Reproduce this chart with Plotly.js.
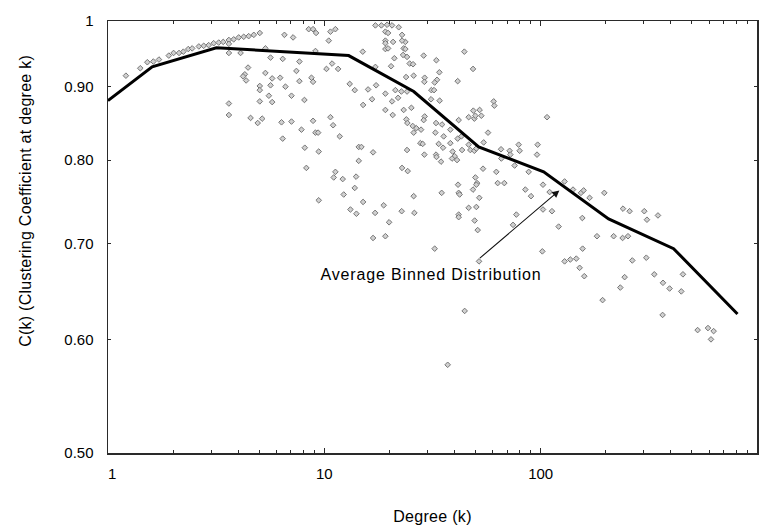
<!DOCTYPE html>
<html>
<head>
<meta charset="utf-8">
<script src="https://cdn.plot.ly/plotly-3.0.1.min.js"></script>
<style>
html,body{margin:0;padding:0;background:#ffffff;}
#chart{width:768px;height:529px;}
#chart .annotation[data-index="1"] text{letter-spacing:0.85px;}
#chart .annotation[data-index="0"] text{letter-spacing:0.25px;}
#chart .xtitle{letter-spacing:0.3px;}
</style>
</head>
<body>
<div id="chart"></div>
<script>
// Scatter of nodes: degree k and clustering coefficient C(k)
const nodeDegree = [
1.21,1.41,1.52,1.62,1.72,1.91,2.01,2.13,2.23,2.35,2.45,2.63,2.77,2.92,3.08,3.25,3.41,3.62,3.81,4.02,4.24,4.47,4.72,5.03,
3.62,3.62,4.10,5.34,6.54,7.17,8.47,8.87,9.16,10.67,11.25,10.48,9.10,5.64,6.42,7.67,10.86,10.23,11.58,4.44,4.29,4.21,4.35,5.34,5.74,6.25,
7.43,7.67,8.72,8.87,5.03,5.03,5.64,6.61,5.54,5.74,5.03,7.05,8.09,3.62,3.62,4.56,5.16,4.92,6.34,7.05,7.84,8.87,10.67,10.98,9.10,9.36,
11.78,6.42,8.12,9.42,14.42,14.84,14.42,16.80,8.26,11.25,11.05,12.16,14.02,13.82,12.29,9.42,15.11,13.20,14.07,17.17,18.81,19.92,16.80,19.15,
17.22,18.35,19.50,20.56,22.07,19.15,19.71,19.15,19.15,20.79,19.15,19.71,15.05,21.07,17.22,20.35,13.10,13.82,15.93,17.35,19.15,21.30,21.92,20.56,
16.62,15.11,19.15,20.70,
22.87,23.69,22.87,23.27,23.69,23.12,24.12,24.80,25.71,28.79,32.95,44.38,48.68,34.02,25.88,23.87,29.09,29.00,33.19,32.36,41.34,31.24,32.15,24.12,
22.71,31.14,34.12,25.26,23.27,29.09,28.79,23.94,24.20,25.61,26.63,28.00,25.88,32.84,35.00,38.24,32.60,35.62,41.78,46.47,49.37,49.90,48.83,52.23,
53.18,60.64,61.08,57.10,107.0,43.00,41.34,27.79,28.48,33.77,35.38,38.24,24.12,29.00,32.84,33.00,34.64,39.19,40.03,38.93,41.06,43.31,46.47,47.31,
49.37,50.43,54.52,22.87,24.28,54.14,62.39,65.59,71.87,72.41,65.80,79.12,79.94,75.80,88.00,96.84,96.18,49.90,50.80,50.43,63.27,67.93,41.50,41.78,
42.22,48.68,52.06,34.86,25.88,22.78,26.07,46.47,50.43,41.78,41.78,49.53,51.15,84.94,90.25,102.5,110.0,102.5,112.8,77.19,74.51,121.1,32.36,51.89,
44.53,37.17,
129.0,141.1,153.6,158.0,168.3,196.9,155.8,182.1,217.4,239.2,253.3,240.2,257.7,301.3,310.0,348.5,156.3,129.0,137.1,146.1,151.4,159.1,265.2,307.8,
244.4,233.4,193.3,335.1,367.6,394.4,454.7,446.7,366.1,531.5,593.4,630.1,612.8,101.8
];
const nodeC = [
0.916,0.927,0.936,0.937,0.940,0.946,0.950,0.950,0.952,0.956,0.957,0.960,0.961,0.962,0.965,0.966,0.967,0.970,0.971,0.974,0.975,0.976,0.978,0.981,
0.964,0.950,0.950,0.957,0.978,0.974,0.987,0.987,0.981,0.983,0.987,0.969,0.953,0.943,0.941,0.937,0.934,0.926,0.926,0.928,0.918,0.915,0.909,0.920,0.912,0.913,
0.923,0.908,0.913,0.907,0.901,0.895,0.902,0.900,0.887,0.878,0.879,0.887,0.881,0.876,0.860,0.856,0.855,0.849,0.850,0.851,0.840,0.852,0.857,0.846,0.836,0.836,
0.831,0.828,0.816,0.811,0.817,0.817,0.799,0.810,0.790,0.785,0.778,0.776,0.779,0.765,0.757,0.750,0.748,0.739,0.734,0.735,0.744,0.724,0.706,0.708,
0.993,0.993,0.994,0.993,0.990,0.983,0.981,0.969,0.965,0.967,0.956,0.957,0.952,0.942,0.929,0.930,0.904,0.895,0.896,0.902,0.890,0.895,0.884,0.879,
0.882,0.874,0.867,0.860,
0.978,0.967,0.969,0.957,0.956,0.947,0.944,0.934,0.933,0.946,0.939,0.952,0.926,0.921,0.916,0.914,0.913,0.907,0.910,0.906,0.908,0.895,0.895,0.893,
0.893,0.882,0.880,0.870,0.867,0.858,0.853,0.854,0.849,0.845,0.842,0.840,0.836,0.849,0.847,0.840,0.836,0.831,0.853,0.857,0.855,0.859,0.866,0.867,
0.859,0.879,0.873,0.836,0.857,0.831,0.828,0.822,0.821,0.821,0.816,0.822,0.813,0.807,0.807,0.804,0.798,0.811,0.805,0.802,0.800,0.813,0.820,0.813,
0.812,0.815,0.823,0.790,0.786,0.789,0.785,0.814,0.812,0.807,0.802,0.820,0.812,0.793,0.785,0.820,0.807,0.778,0.771,0.769,0.771,0.771,0.769,0.759,
0.757,0.763,0.753,0.759,0.755,0.737,0.735,0.741,0.742,0.733,0.730,0.726,0.715,0.763,0.755,0.769,0.760,0.739,0.737,0.733,0.721,0.719,0.694,0.680,
0.628,0.576,
0.773,0.763,0.759,0.762,0.753,0.759,0.729,0.708,0.708,0.706,0.708,0.740,0.737,0.737,0.727,0.732,0.694,0.680,0.682,0.683,0.673,0.664,0.681,0.684,
0.663,0.652,0.639,0.666,0.657,0.651,0.666,0.648,0.624,0.609,0.611,0.608,0.600,0.691
];

// Average binned distribution (black line)
const binDegree = [1, 1.60, 3.17, 12.96, 25.9, 51.7, 103.2, 206.1, 411.7, 812.6];
const binC      = [0.880, 0.929, 0.958, 0.946, 0.893, 0.817, 0.785, 0.728, 0.694, 0.625];

// Axis ticks
const xTickVals = [1, 10, 100, 1000];
const xTickText = ['\u00a0\u00a01', '10', '100', '1000\u00a0\u00a0'];
const xMinorVals = [2,3,4,5,6,7,8,9,20,30,40,50,60,70,80,90,200,300,400,500,600,700,800,900];
const yTickVals = [0.5, 0.6, 0.7, 0.8, 0.9, 1];
const yTickText = ['0.50', '0.60', '0.70', '0.80', '0.90', '1'];

// Annotation arrow tip (degree, C)
const arrowTipDegree = 122;
const arrowTipC = 0.762;
const annotationLabel = 'Average Binned Distribution';

const FONT = 'Liberation Sans, Arial, sans-serif';

const traces = [
  {
    type: 'scatter', mode: 'markers',
    x: nodeDegree, y: nodeC,
    marker: {symbol: 'diamond', size: 4.3, color: '#d0d0d0', line: {color: '#767676', width: 1}},
    hoverinfo: 'x+y', showlegend: false
  },
  {
    type: 'scatter', mode: 'lines',
    x: binDegree, y: binC,
    line: {color: '#000000', width: 3},
    showlegend: false
  }
];

const axisCommon = {
  type: 'log', showgrid: false, zeroline: false,
  showline: true, linecolor: '#2a2a2a', linewidth: 1.5, mirror: 'ticks',
  ticks: 'inside', tickcolor: '#2a2a2a', tickwidth: 1,
  tickfont: {family: FONT, size: 15, color: '#000000'}
};

const layout = {
  width: 768, height: 529,
  margin: {l: 108, r: 11, t: 21, b: 76},
  paper_bgcolor: '#ffffff', plot_bgcolor: '#ffffff',
  font: {family: FONT, color: '#000000'},
  xaxis: Object.assign({}, axisCommon, {
    range: [0, 3],
    tickmode: 'array', tickvals: xTickVals, ticktext: xTickText,
    ticklen: 5, ticklabelstandoff: 6,
    minor: {tickmode: 'array', tickvals: xMinorVals, ticks: 'inside', ticklen: 3, tickcolor: '#2a2a2a', tickwidth: 1, showgrid: false},
    title: {text: 'Degree (k)', font: {family: FONT, size: 16, color: '#000000'}, standoff: 30}
  }),
  yaxis: Object.assign({}, axisCommon, {
    range: [Math.log10(0.5), 0],
    tickmode: 'array', tickvals: yTickVals, ticktext: yTickText,
    ticklen: 3, ticklabelstandoff: 10
  }),
  annotations: [
    {
      xref: 'paper', yref: 'paper', x: -0.127, y: 0.583,
      xanchor: 'center', yanchor: 'middle', textangle: -90, showarrow: false,
      text: 'C(k) (Clustering Coefficient at degree k)',
      font: {family: FONT, size: 16, color: '#000000'}
    },
    {
      xref: 'paper', yref: 'paper', x: 0.497, y: 0.414,
      xanchor: 'center', yanchor: 'middle', showarrow: false,
      text: annotationLabel,
      font: {family: FONT, size: 16, color: '#000000'}
    },
    {
      xref: 'x', yref: 'y', x: Math.log10(arrowTipDegree), y: Math.log10(arrowTipC),
      text: '', showarrow: true, arrowhead: 2, arrowsize: 1.3, arrowwidth: 1.1, arrowcolor: '#111111',
      ax: -81, ay: 69
    }
  ]
};

Plotly.newPlot('chart', traces, layout, {staticPlot: true, displayModeBar: false});
</script>
</body>
</html>
